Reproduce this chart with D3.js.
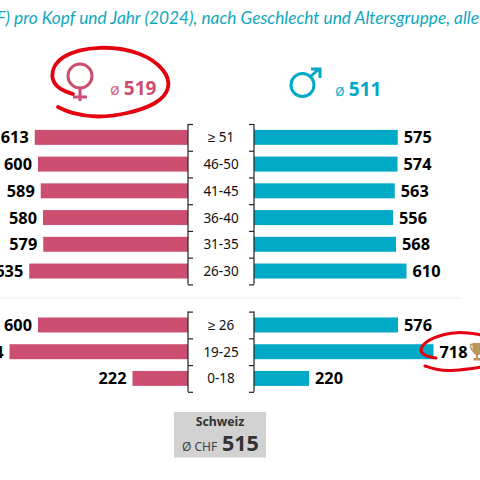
<!DOCTYPE html>
<html>
<head>
<meta charset="utf-8">
<script src="https://cdn.jsdelivr.net/npm/d3@7"></script>
<style>
  html, body { margin: 0; padding: 0; background: #fff; overflow: hidden; }
  svg { display: block; font-family: "Noto Sans", sans-serif; }
</style>
</head>
<body>
<div id="chart"></div>
<script>
// Values
var adultAges = ['≥ 51', '46-50', '41-45', '36-40', '31-35', '26-30'];
var adultFemale = [613, 600, 589, 580, 579, 635];
var adultMale = [575, 574, 563, 556, 568, 610];

var allAges = ['≥ 26', '19-25', '0-18'];
var allFemale = [600, 714, 222];
var allMale = [576, 718, 220];

var subtitle = '(CHF) pro Kopf und Jahr (2024), nach Geschlecht und Altersgruppe, alle';
var femaleMean = 519;
var maleMean = 511;
var swissLabel = 'Schweiz';
var swissMean = 515;

var pink = '#cc4e70',
    teal = '#00a9c6',
    red = '#e3000f',
    gold = '#b9975b';

var svg = d3.select('#chart').append('svg')
  .attr('width', 480)
  .attr('height', 480);

var femaleX = d3.scaleLinear().domain([0, 800]).range([188, -12]);
var maleX = d3.scaleLinear().domain([0, 800]).range([254, 454]);

svg.append('text')
  .attr('x', 479)
  .attr('y', 24)
  .attr('text-anchor', 'end')
  .attr('fill', '#0fa8bd')
  .attr('font-family', 'Lato')
  .attr('font-style', 'italic')
  .attr('font-size', 17.3)
  .text(subtitle);

svg.append('line')
  .attr('x1', 0).attr('x2', 460)
  .attr('y1', 298).attr('y2', 298)
  .attr('stroke', '#eeeeee');

function drawGroup(ages, female, male, top, bottom) {
  var y = d3.scaleBand().domain(ages).range([top, bottom]).paddingInner(0.44).paddingOuter(0.22);
  var rows = ages.map(function(age, i) {
    return {age: age, female: female[i], male: male[i]};
  });

  var g = svg.append('g');

  g.selectAll('.bar-f').data(rows).enter().append('rect')
    .attr('class', 'bar-f')
    .attr('x', function(d) { return femaleX(d.female); })
    .attr('y', function(d) { return y(d.age); })
    .attr('width', function(d) { return femaleX(0) - femaleX(d.female); })
    .attr('height', y.bandwidth())
    .attr('fill', pink);

  g.selectAll('.bar-m').data(rows).enter().append('rect')
    .attr('class', 'bar-m')
    .attr('x', maleX(0))
    .attr('y', function(d) { return y(d.age); })
    .attr('width', function(d) { return maleX(d.male) - maleX(0); })
    .attr('height', y.bandwidth())
    .attr('fill', teal);

  g.selectAll('.val-f').data(rows).enter().append('text')
    .attr('class', 'val-f')
    .attr('x', function(d) { return femaleX(d.female) - 6; })
    .attr('y', function(d) { return y(d.age) + y.bandwidth() / 2 + 6; })
    .attr('text-anchor', 'end')
    .attr('font-size', 16.3)
    .attr('font-weight', 700)
    .attr('fill', '#000')
    .text(function(d) { return d.female; });

  g.selectAll('.val-m').data(rows).enter().append('text')
    .attr('class', 'val-m')
    .attr('x', function(d) { return maleX(d.male) + 6; })
    .attr('y', function(d) { return y(d.age) + y.bandwidth() / 2 + 6; })
    .attr('font-size', 16.3)
    .attr('font-weight', 700)
    .attr('fill', '#000')
    .text(function(d) { return d.male; });

  g.selectAll('.age').data(rows).enter().append('text')
    .attr('class', 'age')
    .attr('x', 221)
    .attr('y', function(d) { return y(d.age) + y.bandwidth() / 2 + 5; })
    .attr('text-anchor', 'middle')
    .attr('font-size', 13.5)
    .attr('fill', '#111')
    .text(function(d) { return d.age; });

  // brackets with a tick between the rows
  var edges = ages.map(function(age) { return y(age) - y.step() * y.paddingOuter(); });
  edges.push(bottom);
  var edgeScale = d3.scaleIdentity().domain([top, bottom]);

  var leftAxis = d3.axisRight(edgeScale).tickValues(edges).tickSize(5).tickFormat('');
  var rightAxis = d3.axisLeft(edgeScale).tickValues(edges).tickSize(5).tickFormat('');

  [[leftAxis, 188], [rightAxis, 254]].forEach(function(a) {
    var axis = g.append('g').attr('transform', 'translate(' + a[1] + ',0)').call(a[0]);
    axis.select('.domain').remove();
    axis.append('line').attr('y1', top).attr('y2', bottom).attr('stroke', '#222').attr('stroke-width', 1.2);
    axis.selectAll('.tick line').attr('stroke', '#222').attr('stroke-width', 1.2);
  });
}

drawGroup(adultAges, adultFemale, adultMale, 124, 284.4);
drawGroup(allAges, allFemale, allMale, 311.6, 391.8);

// gender symbols
var female = svg.append('g').attr('fill', 'none').attr('stroke', pink).attr('stroke-width', 3);
female.append('circle').attr('cx', 80).attr('cy', 76).attr('r', 12);
female.append('path').attr('d', 'M80,88V101M73,97H87');

var male = svg.append('g').attr('fill', 'none').attr('stroke', teal).attr('stroke-width', 3);
male.append('circle').attr('cx', 302.5).attr('cy', 85).attr('r', 11.5);
male.append('path').attr('d', 'M310.5,76.5L319,69M311,69H320V78');

function drawMean(x, y, color, value) {
  var t = svg.append('text').attr('x', x).attr('y', y).attr('fill', color);
  t.append('tspan').attr('font-size', 16).attr('opacity', 0.85).text('ø ');
  t.append('tspan').attr('font-size', 19).attr('font-weight', 700).text(value);
}
drawMean(110, 95, pink, femaleMean);
drawMean(335, 96, teal, maleMean);

// hand drawn red circles
var sketch = d3.line().curve(d3.curveBasis);
var femaleLoop = [[73, 94], [60, 90], [49, 78], [58, 55], [100, 45], [142, 52], [166, 70], [171, 88], [158, 104], [127, 114], [97, 118], [70, 113], [58, 107]];
var maleLoop = [[436, 358], [423, 356], [419, 347], [433, 337], [457, 331], [482, 335]];
var maleLoopLow = [[425, 366], [437, 370], [453, 371], [482, 367]];
[[femaleLoop, 3.8], [maleLoop, 3], [maleLoopLow, 3]].forEach(function(loop) {
  svg.append('path')
    .attr('d', sketch(loop[0]))
    .attr('fill', 'none')
    .attr('stroke', red)
    .attr('stroke-width', loop[1])
    .attr('stroke-linecap', 'round');
});

// trophy next to the highest value
var trophy = svg.append('g').attr('fill', gold);
trophy.append('path').attr('d', 'M472.5,343H482V350Q481,355 477,355.5Q473,354 472.5,350Z');
trophy.append('path').attr('d', 'M473,344.5H470.5Q470.5,350 474,352').attr('fill', 'none').attr('stroke', gold).attr('stroke-width', 1.4);
trophy.append('path').attr('d', 'M476,355H478V358H476ZM473.5,358H480.5V360.5H473.5Z');

// national mean box
svg.append('rect')
  .attr('x', 174).attr('y', 412)
  .attr('width', 92).attr('height', 45.5)
  .attr('fill', '#d2d2d2');
svg.append('text')
  .attr('x', 220).attr('y', 426)
  .attr('text-anchor', 'middle')
  .attr('font-size', 12.3)
  .attr('font-weight', 700)
  .attr('fill', '#333')
  .text(swissLabel);
var swiss = svg.append('text').attr('x', 182).attr('y', 451).attr('fill', '#333');
swiss.append('tspan').attr('font-size', 12).attr('fill', '#444').text('Ø CHF');
swiss.append('tspan').attr('x', 222).attr('font-size', 21.5).attr('font-weight', 700).text(swissMean);
</script>
</body>
</html>
